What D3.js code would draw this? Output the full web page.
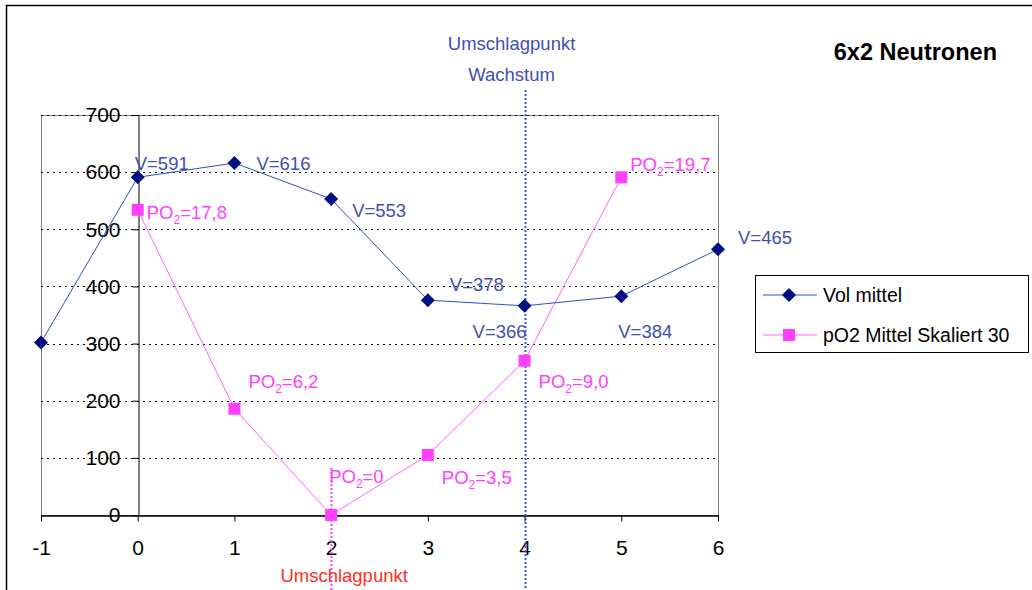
<!DOCTYPE html>
<html>
<head>
<meta charset="utf-8">
<script src="https://cdn.jsdelivr.net/npm/d3@7"></script>
<style>
  body { margin: 0; background: #fff; }
  text { font-family: "Liberation Sans", Arial, sans-serif; }
</style>
</head>
<body>
<div id="chart"></div>
<script>
// x categories (Zeitpunkte)
const xTicks = [-1, 0, 1, 2, 3, 4, 5, 6];
const yTicks = [0, 100, 200, 300, 400, 500, 600, 700];

// Vol mittel
const volX = [-1, 0, 1, 2, 3, 4, 5, 6];
const volY = [302, 591, 616, 553, 376, 366, 383, 465];
const volLabels = [null, 'V=591', 'V=616', 'V=553', 'V=378', 'V=366', 'V=384', 'V=465'];

// pO2 Mittel, skaliert mit 30
const po2X = [0, 1, 2, 3, 4, 5];
const po2Raw = [17.8, 6.2, 0, 3.5, 9.0, 19.7];
const po2Scale = 30;
const po2Labels = ['17,8', '6,2', '0', '3,5', '9,0', '19,7'];

// label offsets in px (dx, dy) from the marker
const volLabelOffsets = [null, [-3, -7], [22, 7], [21, 18], [22, -9], [-52, 32], [-3, 42], [20, -5]];
const po2LabelOffsets = [[9, 9], [14, -21], [-2, -32], [14, 29], [14, 27], [9, -6]];

const W = 1032, H = 590;
const svg = d3.select('#chart').append('svg')
  .attr('width', W).attr('height', H);

// outer chart frame
svg.append('rect')
  .attr('x', 6.5).attr('y', 5.5).attr('width', W).attr('height', H + 10)
  .attr('fill', 'none').attr('stroke', '#000').attr('stroke-width', 1.5);

const x = d3.scaleLinear().domain([-1, 6]).range([41, 718]);
const y = d3.scaleLinear().domain([0, 700]).range([515, 115]);

// plot area border
svg.append('rect')
  .attr('x', x(-1) + 0.5).attr('y', y(700) + 0.5)
  .attr('width', x(6) - x(-1)).attr('height', y(0) - y(700))
  .attr('fill', 'none').attr('stroke', '#808080').attr('stroke-width', 1);

// gridlines
svg.append('g').selectAll('line')
  .data(yTicks.filter(d => d > 0))
  .join('line')
  .attr('x1', x(-1)).attr('x2', x(6))
  .attr('y1', d => Math.round(y(d)) + 0.5).attr('y2', d => Math.round(y(d)) + 0.5)
  .attr('stroke', '#000').attr('stroke-dasharray', '2,4');

// y axis at x = 0
const yAxis = svg.append('g')
  .attr('transform', `translate(${Math.round(x(0)) + 0.5},0)`)
  .call(d3.axisLeft(y).tickValues(yTicks).tickSize(6).tickPadding(12).tickSizeOuter(0));
yAxis.select('.domain').attr('stroke', '#000');
yAxis.selectAll('text').attr('font-size', 21).attr('fill', '#000')
  .attr('font-family', '"Liberation Sans", Arial, sans-serif');

// x axis at y = 0
const xAxis = svg.append('g')
  .attr('transform', `translate(0,${Math.round(y(0)) + 0.5})`)
  .call(d3.axisBottom(x).tickValues(xTicks).tickFormat(d => String(d)).tickSize(6).tickPadding(19).tickSizeOuter(0));
xAxis.select('.domain').attr('stroke', '#000').attr('stroke-width', 1.5);
xAxis.selectAll('text').attr('font-size', 21).attr('fill', '#000')
  .attr('font-family', '"Liberation Sans", Arial, sans-serif');

// Umschlagpunkt lines
svg.append('line')
  .attr('x1', Math.round(x(4)) + 0.5).attr('x2', Math.round(x(4)) + 0.5)
  .attr('y1', 90).attr('y2', H)
  .attr('stroke', '#3355ff').attr('stroke-width', 2).attr('stroke-dasharray', '2,2');
svg.append('line')
  .attr('x1', Math.round(x(2)) + 0.5).attr('x2', Math.round(x(2)) + 0.5)
  .attr('y1', 468).attr('y2', H)
  .attr('stroke', '#ff40ff').attr('stroke-width', 2).attr('stroke-dasharray', '2,2');

svg.append('text').attr('x', x(4) - 13).attr('y', 50).attr('text-anchor', 'middle')
  .attr('font-size', 18.5).attr('fill', '#4050b0').text('Umschlagpunkt');
svg.append('text').attr('x', x(4) - 13).attr('y', 81).attr('text-anchor', 'middle')
  .attr('font-size', 18.5).attr('fill', '#4050b0').text('Wachstum');
svg.append('text').attr('x', x(2) + 13).attr('y', 582).attr('text-anchor', 'middle')
  .attr('font-size', 18.5).attr('fill', '#ff3020').text('Umschlagpunkt');

// title
svg.append('text').attr('x', 997).attr('y', 60).attr('text-anchor', 'end')
  .attr('font-size', 23.5).attr('font-weight', 'bold').attr('fill', '#000').text('6x2 Neutronen');

// series
const volData = volX.map((d, i) => ({ x: d, y: volY[i], label: volLabels[i], off: volLabelOffsets[i] }));
const po2Data = po2X.map((d, i) => ({ x: d, y: po2Raw[i] * po2Scale, label: po2Labels[i], off: po2LabelOffsets[i] }));

const line = d3.line().x(d => x(d.x)).y(d => y(d.y));

svg.append('path').datum(po2Data)
  .attr('d', line).attr('fill', 'none').attr('stroke', '#ff66ff').attr('stroke-width', 1);
svg.append('path').datum(volData)
  .attr('d', line).attr('fill', 'none').attr('stroke', '#3050c0').attr('stroke-width', 1);

svg.append('g').selectAll('rect')
  .data(po2Data).join('rect')
  .attr('x', d => x(d.x) - 6).attr('y', d => y(d.y) - 6)
  .attr('width', 12).attr('height', 12).attr('fill', '#ff40ff');

const diamond = 'M0,-7L7,0L0,7L-7,0Z';
svg.append('g').selectAll('path')
  .data(volData).join('path')
  .attr('transform', d => `translate(${x(d.x)},${y(d.y)})`)
  .attr('d', diamond)
  .attr('fill', '#001080');

// data labels
svg.append('g').selectAll('text')
  .data(volData.filter(d => d.label)).join('text')
  .attr('x', d => x(d.x) + d.off[0]).attr('y', d => y(d.y) + d.off[1])
  .attr('font-size', 18.5).attr('fill', '#4050b0')
  .text(d => d.label);

const po2Text = svg.append('g').selectAll('text')
  .data(po2Data).join('text')
  .attr('x', d => x(d.x) + d.off[0]).attr('y', d => y(d.y) + d.off[1])
  .attr('font-size', 18.5).attr('fill', '#ff40ff');
po2Text.append('tspan').text('PO');
po2Text.append('tspan').attr('font-size', 12).attr('dy', 5).text('2');
po2Text.append('tspan').attr('dy', -5).text(d => '=' + d.label);

// legend
const lg = svg.append('g').attr('transform', 'translate(755,275)');
lg.append('rect').attr('x', 0.5).attr('y', 0.5).attr('width', 273).attr('height', 77)
  .attr('fill', '#fff').attr('stroke', '#000');
const legendItems = [
  { name: 'Vol mittel', color: '#3050c0', mark: '#001080', type: 'diamond' },
  { name: 'pO2 Mittel Skaliert 30', color: '#ff66ff', mark: '#ff40ff', type: 'square' }
];
legendItems.forEach((it, i) => {
  const cy = 20 + i * 40;
  lg.append('line').attr('x1', 8).attr('x2', 62).attr('y1', cy).attr('y2', cy)
    .attr('stroke', it.color).attr('stroke-width', 1);
  if (it.type === 'diamond') {
    lg.append('path').attr('transform', `translate(34,${cy})`)
      .attr('d', diamond).attr('fill', it.mark);
  } else {
    lg.append('rect').attr('x', 28).attr('y', cy - 6).attr('width', 12).attr('height', 12).attr('fill', it.mark);
  }
  lg.append('text').attr('x', 68).attr('y', cy + 7).attr('font-size', 19.5).attr('fill', '#000').text(it.name);
});
</script>
</body>
</html>
